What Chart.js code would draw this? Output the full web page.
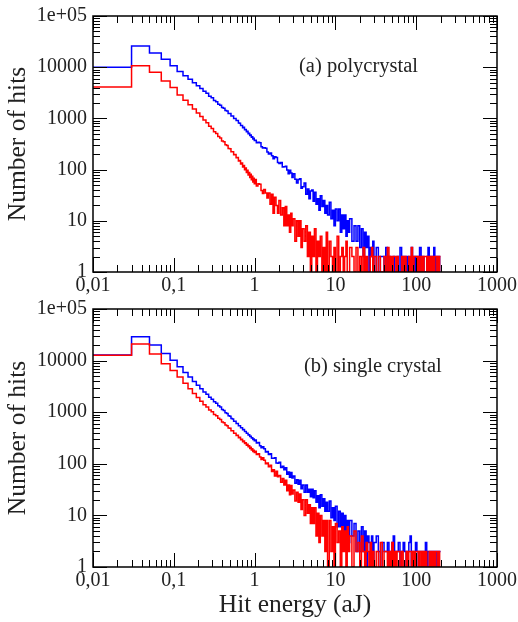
<!DOCTYPE html>
<html>
<head>
<meta charset="utf-8">
<script src="https://cdn.jsdelivr.net/npm/chart.js@4/dist/chart.umd.min.js"></script>
<style>
  body { margin: 0; background: #fff; width: 518px; height: 622px; position: relative; overflow: hidden; }
  canvas { position: absolute; left: 0; }
</style>
</head>
<body>
<canvas id="chartA" width="518" height="300" style="top:0"></canvas>
<canvas id="chartB" width="518" height="322" style="top:300px"></canvas>
<script>
// left bin edges (aJ); last entry closes the final bin
const binEdges = [
  0.01,0.03,0.05,0.07,0.09,0.11,0.13,0.15,0.17,0.19,
  0.21,0.23,0.25,0.27,0.29,0.31,0.33,0.35,0.37,0.39,
  0.41,0.43,0.45,0.47,0.49,0.51,0.53,0.55,0.57,0.59,
  0.61,0.63,0.65,0.67,0.69,0.71,0.73,0.75,0.77,0.79,
  0.81,0.83,0.85,0.87,0.89,0.91,0.93,0.95,0.97,0.99,
  1.01,1.05,1.1,1.15,1.2,1.25,1.3,1.36,1.42,1.48,
  1.55,1.62,1.69,1.76,1.84,1.92,2.0,2.1,2.2,2.3,
  2.4,2.5,2.6,2.7,2.8,2.9,3.0,3.15,3.3,3.45,
  3.6,3.75,3.9,4.1,4.3,4.5,4.7,4.9,5.1,5.3,
  5.5,5.75,6.0,6.25,6.5,6.8,7.1,7.4,7.7,8.0,
  8.4,8.8,9.2,9.6,10,10.5,11,11.5,12,12.5,
  13,13.5,14,14.5,15,16,17,18,19,20,
  21,22,23,24,25,26,27,28,29,30,
  32,34,36,38,40,42,44,46,48,50,
  52,54,56,58,60,63,66,69,72,75,
  78,81,84,87,90,94,98,102,106,110,
  115,120,125,130,135,140,145,150,155,160,
  165,170,175,180,185,190,195,200
];

// (a) polycrystal
const polyBlue = [
  10000,26000,19000,14300,10700,8200,6800,5820,4990,4360,
  3850,3400,3090,2710,2520,2240,2110,1900,1810,1630,
  1580,1420,1390,1250,1240,1110,1110,1000,1000,915,
  905,812,805,728,730,660,668,598,607,548,
  560,503,515,466,475,430,440,398,408,372,
  375,336,344,335,280,263,267,262,221,202,
  211,186,163,178,172,138,132,137,112,114,
  116,98,83,97,86,70,83,65,55,64,
  66,43,46,55,33,42,27,38,40,24,
  36,21,27,16,31,19,25,14,20,13,
  23,11,16,8,17,10,17,6,13,7,
  13,5,10,6,11,4,8,4,8,3,
  7,2,6,3,5,1,3,2,4,1,
  3,1,2,2,1,3,1,2,1,1,
  2,1,1,2,1,3,1,2,2,1,
  2,1,1,3,1,2,1,2,1,3,
  1,2,1,1,2,3,1,2,1,2,
  3,1,2,1,2,2,1
];
const polyRed = [
  4100,10700,8000,5400,4000,2850,2250,1840,1520,1280,
  1090,930,825,700,635,548,508,442,414,362,
  348,305,296,258,255,222,224,194,197,171,
  173,147,151,128,134,113,120,99,107,88,
  97,78,88,70,81,63,74,57,68,53,
  64,48,53,52,39,34,41,35,28,35,
  21,33,14,29,20,14,25,13,18,8,
  19,8,13,6,14,8,11,4,10,5,
  10,3,7,4,8,2,6,1,5,2,
  7,1,4,2,5,1,3,1,6,1,
  4,2,1,3,1,5,1,2,3,1,
  2,4,1,1,3,2,1,3,1,2,
  1,3,1,2,1,1,2,3,1,2,
  1,2,1,1,2,1,3,1,2,1,
  2,2,1,2,1,1,2,1,2,1,
  1,2,1,3,1,2,2,1,2,1,
  2,1,2,2,1,2,1,2,1,2,
  1,2,2,1,2,1,2
];

// (b) single crystal
const singleBlue = [
  12800,29000,20000,13800,10200,7600,5900,4790,3950,3330,
  2860,2470,2230,1950,1790,1590,1490,1330,1260,1130,
  1080,972,944,851,832,752,742,671,666,604,
  602,548,546,498,500,458,461,421,425,390,
  393,362,367,338,342,315,321,296,301,279,
  289,253,259,225,205,215,195,169,174,152,
  156,128,128,131,104,103,107,85,90,77,
  84,63,69,55,68,53,58,42,49,40,
  48,33,39,28,39,28,32,23,32,22,
  30,18,24,14,25,15,21,12,18,12,
  19,9,14,8,15,6,12,6,11,4,
  10,4,8,3,8,4,7,2,5,2,
  6,2,5,1,4,3,2,4,1,3,
  4,2,1,3,2,2,3,1,2,3,
  4,1,2,2,3,1,2,3,2,1,
  2,3,4,1,2,2,3,2,1,2,
  2,1,2,3,1,2,2,1,2,2,
  1,2,2,1,2,2,2
];
const singleRed = [
  12700,21000,13400,8700,6450,4800,3620,2840,2310,1920,
  1630,1400,1265,1105,1025,905,855,760,726,648,
  628,562,549,493,487,437,436,391,392,353,
  357,320,326,292,299,268,276,247,256,229,
  238,213,223,199,209,186,196,174,184,165,
  175,151,157,135,121,131,117,100,104,88,
  94,71,77,58,72,56,59,44,52,39,
  48,30,39,25,38,26,31,19,28,18,
  26,13,20,10,20,11,16,7,14,7,
  14,4,11,3,10,4,8,2,8,1,
  8,2,6,1,7,3,5,1,6,2,
  5,1,6,2,4,1,5,2,3,1,
  4,2,1,3,2,1,3,1,2,1,
  2,1,3,1,2,2,1,2,1,3,
  1,2,1,2,2,1,2,1,1,2,
  1,2,2,1,2,1,2,2,1,2,
  1,2,1,2,1,1,2,1,2,1,
  2,1,2,2,1,2,1
];

const xTickValues = [0.01, 0.1, 1, 10, 100, 1000];
const xTickLabels = ['0,01', '0,1', '1', '10', '100', '1000'];
const yTickValues = [1, 10, 100, 1000, 10000, 100000];
const yTickLabels = ['1', '10', '100', '1000', '10000', '1e+05'];
const minorSteps = [2, 3, 4, 5, 6, 7, 8, 9];

const serif = '"Liberation Serif", "DejaVu Serif", serif';
Chart.defaults.font.family = serif;
Chart.defaults.color = '#000';

function toPoints(counts) {
  const pts = counts.map((c, i) => ({ x: binEdges[i], y: c }));
  pts.push({ x: binEdges[binEdges.length - 1], y: counts[counts.length - 1] });
  return pts;
}

// inward ticks on all four sides, frame and text
const frameTicks = {
  id: 'frameTicks',
  afterDatasetsDraw(chart, args, opts) {
    const { ctx, chartArea: a, scales: { x, y } } = chart;
    ctx.save();
    ctx.strokeStyle = '#000';
    ctx.lineWidth = 1;
    ctx.beginPath();
    xTickValues.forEach((v, i) => {
      const px = Math.round(x.getPixelForValue(v)) + 0.5;
      ctx.moveTo(px, a.bottom); ctx.lineTo(px, a.bottom - 14);
      ctx.moveTo(px, a.top); ctx.lineTo(px, a.top + 14);
      if (i < xTickValues.length - 1) {
        minorSteps.forEach(m => {
          const mx = Math.round(x.getPixelForValue(v * m)) + 0.5;
          ctx.moveTo(mx, a.bottom); ctx.lineTo(mx, a.bottom - 7);
          ctx.moveTo(mx, a.top); ctx.lineTo(mx, a.top + 7);
        });
      }
    });
    yTickValues.forEach((v, i) => {
      const py = Math.round(y.getPixelForValue(v)) + 0.5;
      ctx.moveTo(a.left, py); ctx.lineTo(a.left + 14, py);
      ctx.moveTo(a.right, py); ctx.lineTo(a.right - 14, py);
      if (i < yTickValues.length - 1) {
        minorSteps.forEach(m => {
          const my = Math.round(y.getPixelForValue(v * m)) + 0.5;
          ctx.moveTo(a.left, my); ctx.lineTo(a.left + 7, my);
          ctx.moveTo(a.right, my); ctx.lineTo(a.right - 7, my);
        });
      }
    });
    ctx.stroke();
    ctx.lineWidth = 1.5;
    ctx.strokeRect(a.left, a.top, a.right - a.left, a.bottom - a.top);

    ctx.fillStyle = '#222';
    ctx.font = '20.5px ' + serif;
    ctx.textAlign = 'left';
    ctx.textBaseline = 'middle';
    ctx.fillText(opts.note, opts.noteX, opts.noteY);

    ctx.font = '25.5px ' + serif;
    ctx.textAlign = 'center';
    ctx.save();
    ctx.translate(18, (a.top + a.bottom) / 2);
    ctx.rotate(-Math.PI / 2);
    ctx.fillText('Number of hits', 0, 0);
    ctx.restore();
    if (opts.xTitle) {
      ctx.fillText(opts.xTitle, (a.left + a.right) / 2, opts.xTitleY);
    }
    ctx.restore();
  }
};

function buildPanel(canvasId, redCounts, blueCounts, topPad, xHeight, note, noteX, xTitle) {
  const ctx = document.getElementById(canvasId);
  return new Chart(ctx, {
    type: 'line',
    data: {
      datasets: [{
        label: 'red',
        data: toPoints(redCounts),
        borderColor: 'rgb(255, 0, 0)',
        borderWidth: 1.5,
        pointRadius: 0,
        stepped: 'before',
        fill: false
      }, {
        label: 'blue',
        data: toPoints(blueCounts),
        borderColor: 'rgb(0, 0, 255)',
        borderWidth: 1.5,
        pointRadius: 0,
        stepped: 'before',
        fill: false
      }]
    },
    options: {
      responsive: false,
      animation: false,
      events: [],
      layout: { padding: { left: 0, right: 21, top: topPad, bottom: 0 } },
      plugins: {
        legend: { display: false },
        tooltip: { enabled: false },
        frameTicks: { note: note, noteX: noteX, noteY: 67, xTitle: xTitle, xTitleY: 305 }
      },
      scales: {
        x: {
          type: 'logarithmic',
          min: 0.01,
          max: 1000,
          grid: { display: false, drawTicks: false },
          border: { display: false },
          afterBuildTicks: s => { s.ticks = xTickValues.map(v => ({ value: v })); },
          afterFit: s => { s.height = xHeight; s.paddingLeft = 0; s.paddingRight = 0; },
          ticks: {
            autoSkip: false,
            maxRotation: 0,
            padding: 2,
            font: { size: 20, family: serif },
            color: '#222',
            callback: (v, i) => xTickLabels[i]
          }
        },
        y: {
          type: 'logarithmic',
          min: 1,
          max: 100000,
          grid: { display: false, drawTicks: false },
          border: { display: false },
          afterBuildTicks: s => { s.ticks = yTickValues.map(v => ({ value: v })); },
          afterFit: s => { s.width = 93; s.paddingTop = 0; s.paddingBottom = 0; },
          ticks: {
            autoSkip: false,
            padding: 6,
            font: { size: 20, family: serif },
            color: '#222',
            callback: (v, i) => yTickLabels[i]
          }
        }
      }
    },
    plugins: [frameTicks]
  });
}

buildPanel('chartA', polyRed, polyBlue, 16, 28, '(a) polycrystal', 299, null);
buildPanel('chartB', singleRed, singleBlue, 9, 55, '(b) single crystal', 304, 'Hit energy (aJ)');
</script>
</body>
</html>
